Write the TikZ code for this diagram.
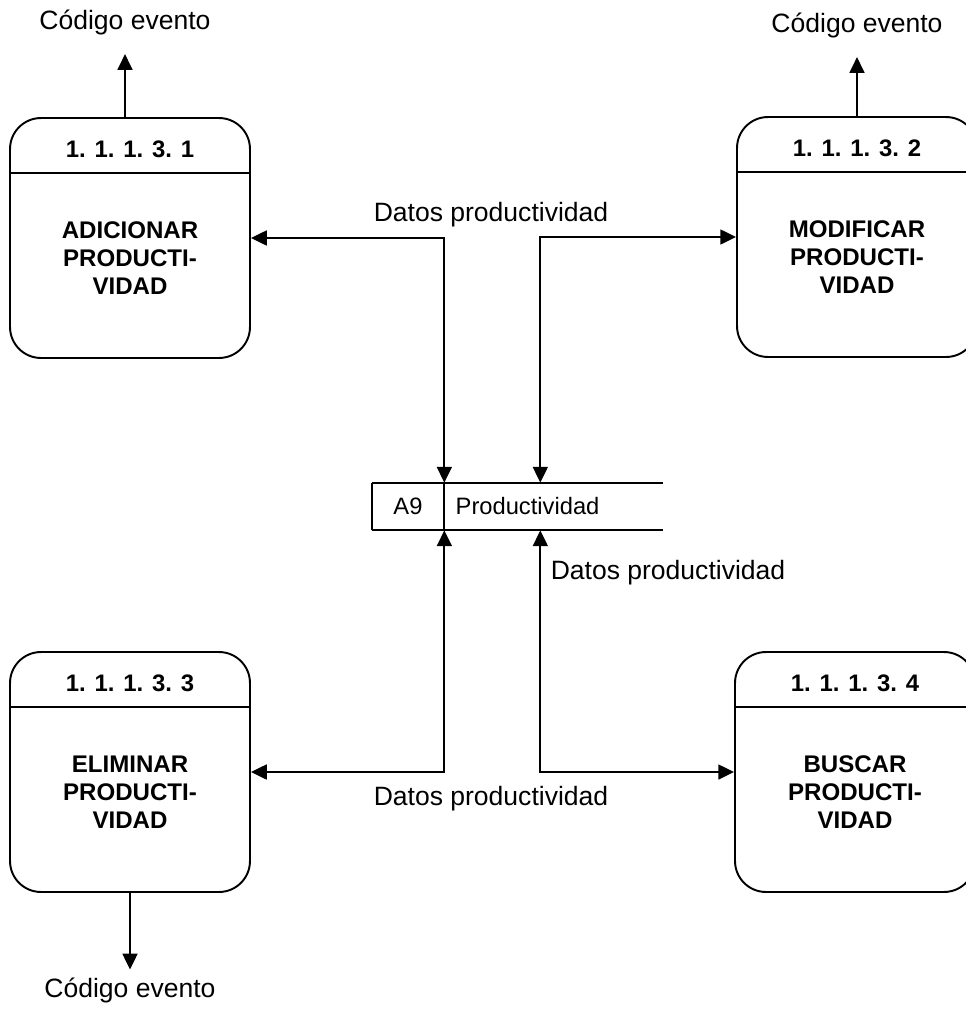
\documentclass[tikz,border=0pt]{standalone}
\usepackage{fontspec}
\setmainfont{Liberation Sans}
\usetikzlibrary{arrows.meta, positioning}
\tikzstyle{proceso} = [draw, line width=1.1pt, rounded corners=0.62cm, minimum width=4.8cm, minimum height=4.8cm]
\tikzstyle{titulo} = [font=\fontsize{13.6pt}{16pt}\selectfont\bfseries]
\tikzstyle{nombre} = [font=\fontsize{13.7pt}{15.8pt}\selectfont\bfseries, align=center]
\tikzstyle{etiqueta} = [font=\fontsize{15.1pt}{18pt}\selectfont]
\tikzstyle{almacen} = [font=\fontsize{13.5pt}{16pt}\selectfont, minimum height=0.94cm, inner sep=0pt]
\tikzstyle{flujo} = [line width=1.1pt, {Triangle[length=9pt,width=8.5pt]}-{Triangle[length=9pt,width=8.5pt]}]
\tikzstyle{salida} = [line width=1.1pt, -{Triangle[length=9pt,width=8.5pt]}]

\begin{document}
\begin{tikzpicture}[x=0.02cm, y=-0.02cm]
	\useasboundingbox (0,0) rectangle (966,1011);
	% procesos
	\foreach \n/\pos/\num/\nom in {p1/{(130,238)}/1/ADICIONAR, p2/{(857,237)}/2/MODIFICAR, p3/{(130,772)}/3/ELIMINAR, p4/{(855,772)}/4/BUSCAR}{
		\node[proceso] (\n) at \pos {};
		\draw[line width=1.1pt] ([yshift=-1.12cm]\n.north west) -- ([yshift=-1.12cm]\n.north east);
		\node[titulo] (\n-t) at ([yshift=-0.64cm]\n.north) {1. 1. 1. 3. \num};
		\node[nombre] (\n-b) at ([yshift=-2.82cm]\n.north) {\nom\\PRODUCTI-\\VIDAD};
	}
	% almacen de datos
	\node[almacen, minimum width=1.44cm] (a9) at (408,506.5) {A9};
	\node[almacen, minimum width=4.36cm, text width=3.92cm, align=left, right=0pt of a9] (alm) {Productividad};
	\draw[line width=1.1pt] (a9.north west) -- (alm.north east);
	\draw[line width=1.1pt] (a9.south west) -- (alm.south east);
	\draw[line width=1.1pt] (a9.north west) -- (a9.south west);
	\draw[line width=1.1pt] (a9.north east) -- (a9.south east);
	\coordinate (e2) at ([xshift=1.92cm]alm.north west);
	\coordinate (e4) at ([xshift=1.92cm]alm.south west);
	% flujos
	\draw[flujo] (p1.east) -| (a9.north east);
	\draw[flujo] (p2.west) -| (e2);
	\draw[flujo] (p3.east) -| (a9.south east);
	\draw[flujo] (p4.west) -| (e4);
	\node[etiqueta] (d1) at (491,215) {Datos productividad};
	\node[etiqueta] (d2) at (668,573) {Datos productividad};
	\node[etiqueta] (d3) at (491,799) {Datos productividad};
	% codigo evento
	\node[etiqueta] (ev1) at (125,22) {Código evento};
	\node[etiqueta] (ev2) at (857,25) {Código evento};
	\node[etiqueta] (ev3) at (130,990) {Código evento};
	\draw[salida, shorten >=7.6pt] ([xshift=-0.1cm]p1.north) -- ([xshift=-0.1cm]p1.north |- ev1.south);
	\draw[salida, shorten >=7.6pt] (p2.north) -- (ev2.south);
	\draw[salida, shorten >=1pt] (p3.south) -- (ev3.north);
\end{tikzpicture}
\end{document}
